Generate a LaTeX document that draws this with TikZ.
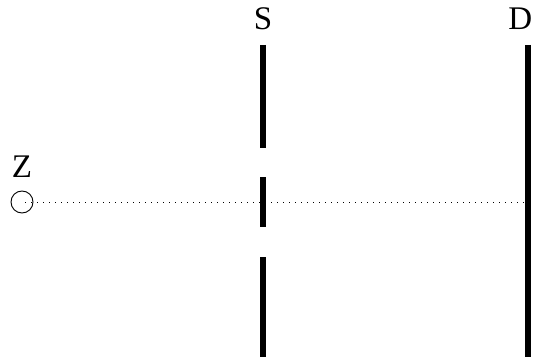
\documentclass[tikz,border=0pt]{standalone}
\usepackage{fontspec}
\setmainfont{Liberation Serif}
\begin{document}
\begin{tikzpicture}[x=1pt,y=-1pt,
  barline/.style={line width=6pt},
  lbl/.style={font=\fontsize{33}{33}\selectfont, inner sep=0pt},
  beam/.style={line width=0.8pt, dash pattern=on 0.8pt off 5.2pt},
  src/.style={circle, draw, line width=0.9pt, minimum size=22pt, inner sep=0pt}]
\useasboundingbox (0,0) rectangle (533,361);
% source
\node[lbl] (zl) at (22,167) {Z};
\node[src] (z) at (22,202) {};
% screen S
\node[lbl] (sl) at (263,19) {S};
\coordinate (s1a) at (263,45);  \coordinate (s1b) at (263,148);
\coordinate (s2a) at (263,177); \coordinate (s2b) at (263,227);
\coordinate (s3a) at (263,257); \coordinate (s3b) at (263,357);
\draw[barline] (s1a) -- (s1b);
\draw[barline] (s2a) -- (s2b);
\draw[barline] (s3a) -- (s3b);
% detector D
\node[lbl, anchor=east] (dl) at (532.5,19) {D};
\coordinate (da) at (528,45); \coordinate (db) at (528,357);
\draw[barline] (da) -- (db);
\coordinate (dhit) at (525,202);
\draw[beam] (z.center) ++(3,0) -- (dhit);
\end{tikzpicture}
\end{document}
